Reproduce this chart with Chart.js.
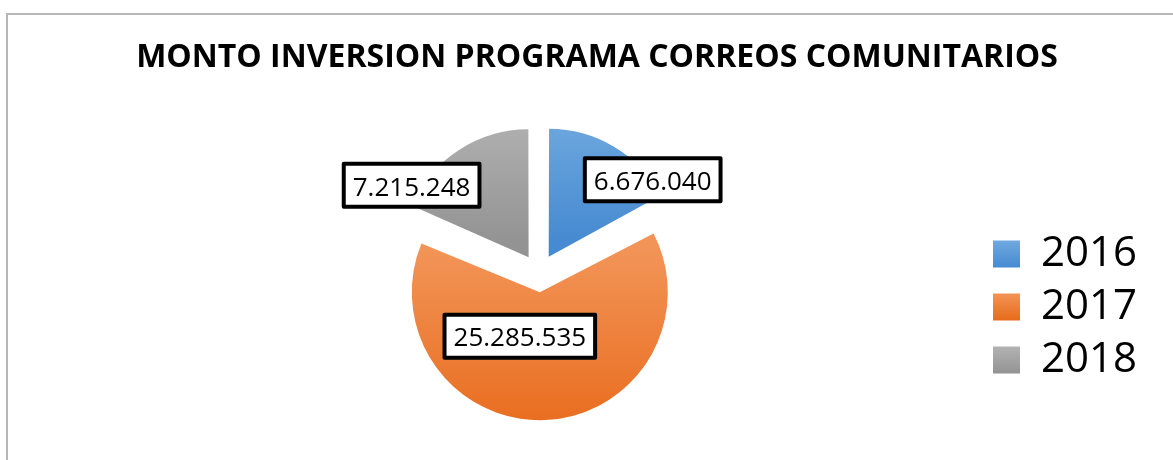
<!DOCTYPE html>
<html>
<head>
<meta charset="utf-8">
<title>Monto inversion programa correos comunitarios</title>
<script src="https://cdn.jsdelivr.net/npm/chart.js@4.4.0/dist/chart.umd.min.js"></script>
<style>
  html, body { margin: 0; padding: 0; background: #fff; overflow: hidden; }
  #frame { position: absolute; left: 6px; top: 13px; width: 1300px; height: 600px; border: 2px solid #b7b7b7; }
  #wrap { position: absolute; left: 0; top: 0; width: 1173px; height: 460px; }
</style>
</head>
<body>
<div id="frame"></div>
<div id="wrap"><canvas id="pie" width="1173" height="460"></canvas></div>
<script>
const years = ['2016', '2017', '2018'];
const montos = [6676040, 25285535, 7215248];

// gradient stops per slice (top -> bottom)
const topColors = ['#70a9df', '#f29457', '#b2b2b2'];
const bottomColors = ['#468ad1', '#e86a1b', '#939393'];

const PIE_RADIUS = 128;
const EXPLODE = 76;        // Chart.js moves an arc by offset / 4
const LEGEND_FONT = 42;
const LEGEND_BOX = 27;

// 25285535 -> "25.285.535"
function miles(n) {
  return String(n).replace(/\B(?=(\d{3})+(?!\d))/g, '.');
}

// vertical extent of one slice, so its gradient runs over the slice only
function sliceSpan(cy, r, a0, a1) {
  let top = cy, bottom = cy;
  [a0, a1].forEach(a => {
    const y = cy + Math.sin(a) * r;
    top = Math.min(top, y);
    bottom = Math.max(bottom, y);
  });
  for (let k = -1; k <= 1; k++) {
    const up = -Math.PI / 2 + k * 2 * Math.PI;
    const down = Math.PI / 2 + k * 2 * Math.PI;
    if (up >= a0 && up <= a1) top = cy - r;
    if (down >= a0 && down <= a1) bottom = cy + r;
  }
  return [top, bottom];
}

function sliceFill(context) {
  const chart = context.chart;
  const area = chart.chartArea;
  const i = context.dataIndex;
  if (!area || i === undefined) return topColors[i || 0];
  const total = montos.reduce((a, b) => a + b, 0);
  let a0 = -Math.PI / 2;
  for (let k = 0; k < i; k++) a0 += montos[k] / total * 2 * Math.PI;
  const a1 = a0 + montos[i] / total * 2 * Math.PI;
  const cy = (area.top + area.bottom) / 2 + Math.sin((a0 + a1) / 2) * EXPLODE / 4;
  const [y0, y1] = sliceSpan(cy, PIE_RADIUS, a0, a1);
  const g = chart.ctx.createLinearGradient(0, y0, 0, y1);
  g.addColorStop(0, topColors[i]);
  g.addColorStop(1, bottomColors[i]);
  return g;
}

// ArcElement grows wide arcs by offset/4 when exploded; keep every slice the same size
const sameRadius = {
  id: 'sameRadius',
  afterDatasetsUpdate(chart) {
    chart.getDatasetMeta(0).data.forEach(arc => {
      const circ = arc.endAngle - arc.startAngle;
      const grow = (arc.options.offset / 4) * (1 - Math.sin(Math.min(Math.PI, circ)));
      arc.outerRadius = PIE_RADIUS - grow;
    });
  }
};

// the legend is kept narrow for the layout, let it draw up to the canvas edge
const wideLegend = {
  id: 'wideLegend',
  afterLayout(chart) {
    const lg = chart.legend;
    if (!lg) return;
    lg.left -= 3;
    lg.right = chart.width;
    lg.width = lg.right - lg.left;
  }
};

// legend squares get their own small gradient
const legendSwatches = {
  id: 'legendSwatches',
  beforeDraw(chart) {
    const lg = chart.legend;
    if (!lg || !lg.legendHitBoxes || !lg.legendItems) return;
    lg.legendItems.forEach((item, i) => {
      const hb = lg.legendHitBoxes[i];
      if (!hb) return;
      const top = hb.top + (LEGEND_FONT - LEGEND_BOX) / 2;
      const g = chart.ctx.createLinearGradient(0, top, 0, top + LEGEND_BOX);
      g.addColorStop(0, topColors[item.index]);
      g.addColorStop(1, bottomColors[item.index]);
      item.fillStyle = g;
    });
  }
};

// white value boxes with a heavy black frame
const valueBoxes = {
  id: 'valueBoxes',
  afterDatasetsDraw(chart, args, opts) {
    const ctx = chart.ctx;
    const meta = chart.getDatasetMeta(0);
    ctx.save();
    ctx.font = opts.size + 'px ' + opts.family;
    ctx.textAlign = 'center';
    ctx.textBaseline = 'alphabetic';
    ctx.lineJoin = 'round';
    meta.data.forEach((arc, i) => {
      const mid = (arc.startAngle + arc.endAngle) / 2;
      const off = arc.options.offset / 4;
      const x = arc.x + Math.cos(mid) * off + opts.nudge[i][0];
      const y = arc.y + Math.sin(mid) * off + opts.nudge[i][1];
      const text = miles(montos[i]);
      const w = ctx.measureText(text).width + opts.padX * 2;
      const h = opts.height;
      ctx.fillStyle = '#fff';
      ctx.fillRect(x - w / 2, y - h / 2, w, h);
      ctx.lineWidth = opts.border;
      ctx.strokeStyle = '#000';
      ctx.strokeRect(x - w / 2, y - h / 2, w, h);
      ctx.fillStyle = '#000';
      ctx.fillText(text, x, y + opts.size * 0.357 + 1);
    });
    ctx.restore();
  }
};

new Chart(document.getElementById('pie'), {
  type: 'pie',
  data: {
    labels: years,
    datasets: [{
      data: montos,
      backgroundColor: sliceFill,
      borderWidth: 0,
      offset: EXPLODE,
      radius: PIE_RADIUS,
      clip: false
    }]
  },
  options: {
    responsive: false,
    animation: false,
    events: [],
    layout: { padding: { left: 93, right: 72, top: 0, bottom: 68 } },
    plugins: {
      title: {
        display: true,
        text: 'MONTO INVERSION PROGRAMA CORREOS COMUNITARIOS',
        color: '#000',
        font: { family: 'Open Sans', size: 32, weight: 'bold', lineHeight: 1.2 },
        padding: { top: 39, bottom: 77 }
      },
      legend: {
        position: 'right',
        align: 'end',
        maxWidth: 116,
        labels: {
          boxWidth: LEGEND_BOX,
          boxHeight: LEGEND_BOX,
          padding: 11,
          color: '#000',
          font: { family: 'Open Sans', size: LEGEND_FONT }
        }
      },
      tooltip: { enabled: false },
      valueBoxes: {
        family: 'Open Sans',
        size: 26,
        padX: 9,
        height: 43,
        border: 4,
        // blue, orange, gray: shift from each slice's tip
        nudge: [[104, -77], [-20, 44], [-117, -72]]
      }
    }
  },
  plugins: [sameRadius, wideLegend, legendSwatches, valueBoxes]
});
</script>
</body>
</html>
